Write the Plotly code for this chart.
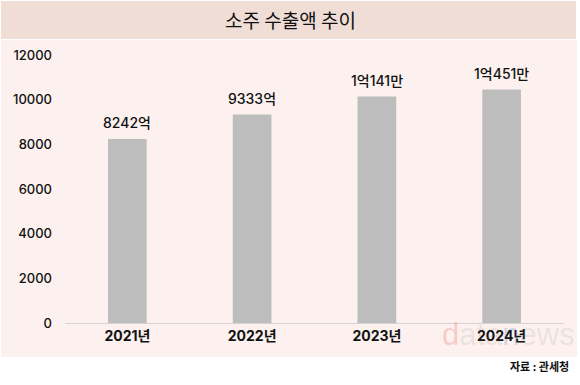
import plotly.graph_objects as go

years = ["2021년", "2022년", "2023년", "2024년"]
values = [8242, 9333, 10141, 10451]
labels = ["8242억", "9333억", "1억141만", "1억451만"]
y_ticks = [0, 2000, 4000, 6000, 8000, 10000, 12000]
y_tick_text = ["0", "2000", "4000", "6000", "8000", "10000", "12000"]

FONT = "Inter, Noto Sans CJK KR"
KFONT = "Noto Sans CJK KR"

L, R, T, B = 65, 16, 55, 62
PW, PH = 580 - L - R, 385 - T - B


def px_x(x):
    return (x - L) / PW


def px_y(y):
    return (385 - B - y) / PH


fig = go.Figure(go.Bar(
    x=years, y=values,
    marker=dict(color="#bdbdbd", line=dict(width=0)),
    width=0.31, hoverinfo="skip",
))

annotations = [
    dict(text="<span style='color:rgba(232,70,60,0.22)'>d</span>"
              "<span style='color:rgba(120,120,120,0.13)'>ata</span>"
              "<span style='color:rgba(60,110,210,0.22)'>n</span>"
              "<span style='color:rgba(120,120,120,0.13)'>ews</span>",
         xref="paper", yref="paper", x=px_x(440), y=px_y(334),
         xanchor="left", yanchor="middle", showarrow=False,
         font=dict(family="Liberation Sans", size=31)),
    dict(text="소주 수출액 추이", xref="paper", yref="paper", x=px_x(290), y=px_y(20),
         xanchor="center", yanchor="middle", showarrow=False,
         font=dict(family=KFONT, size=19, color="#111111")),
    dict(text="<b>자료 : 관세청</b>", xref="paper", yref="paper", x=px_x(571), y=px_y(366),
         xanchor="right", yanchor="middle", showarrow=False,
         font=dict(family=KFONT, size=11, color="#111111")),
]
for yr, v, lab in zip(years, values, labels):
    annotations.append(dict(
        text=lab, x=yr, y=v, xref="x", yref="y", yanchor="middle", yshift=16,
        showarrow=False, font=dict(family=FONT, size=14, color="#111111", weight=500),
    ))

fig.update_layout(
    width=580, height=385,
    margin=dict(l=L, r=R, t=T, b=B, autoexpand=False),
    paper_bgcolor="white", plot_bgcolor="rgba(0,0,0,0)",
    showlegend=False,
    font=dict(family=FONT, color="#111111"),
    xaxis=dict(showgrid=False, showline=True, linecolor="#d4d4d4", linewidth=1,
               tickfont=dict(family=FONT, size=14, color="#111111", weight="bold"),
               ticks="", automargin=False),
    yaxis=dict(range=[0, 12000], tickvals=y_ticks, ticktext=y_tick_text, showgrid=False,
               zeroline=False, showline=False, automargin=False,
               tickfont=dict(family=FONT, size=13, color="#111111", weight=500),
               ticklabelstandoff=12),
    shapes=[
        dict(type="rect", xref="paper", yref="paper", layer="below",
             x0=px_x(1), x1=px_x(577), y0=px_y(357), y1=px_y(40),
             fillcolor="#fcf1ee", line=dict(width=0)),
        dict(type="rect", xref="paper", yref="paper", layer="below",
             x0=px_x(1), x1=px_x(576), y0=px_y(39), y1=px_y(1),
             fillcolor="#f0ddd6", line=dict(width=0)),
    ],
    annotations=annotations,
)
fig.write_html("out.html", config={"displayModeBar": False},
               post_script="document.body.style.margin='0';")
